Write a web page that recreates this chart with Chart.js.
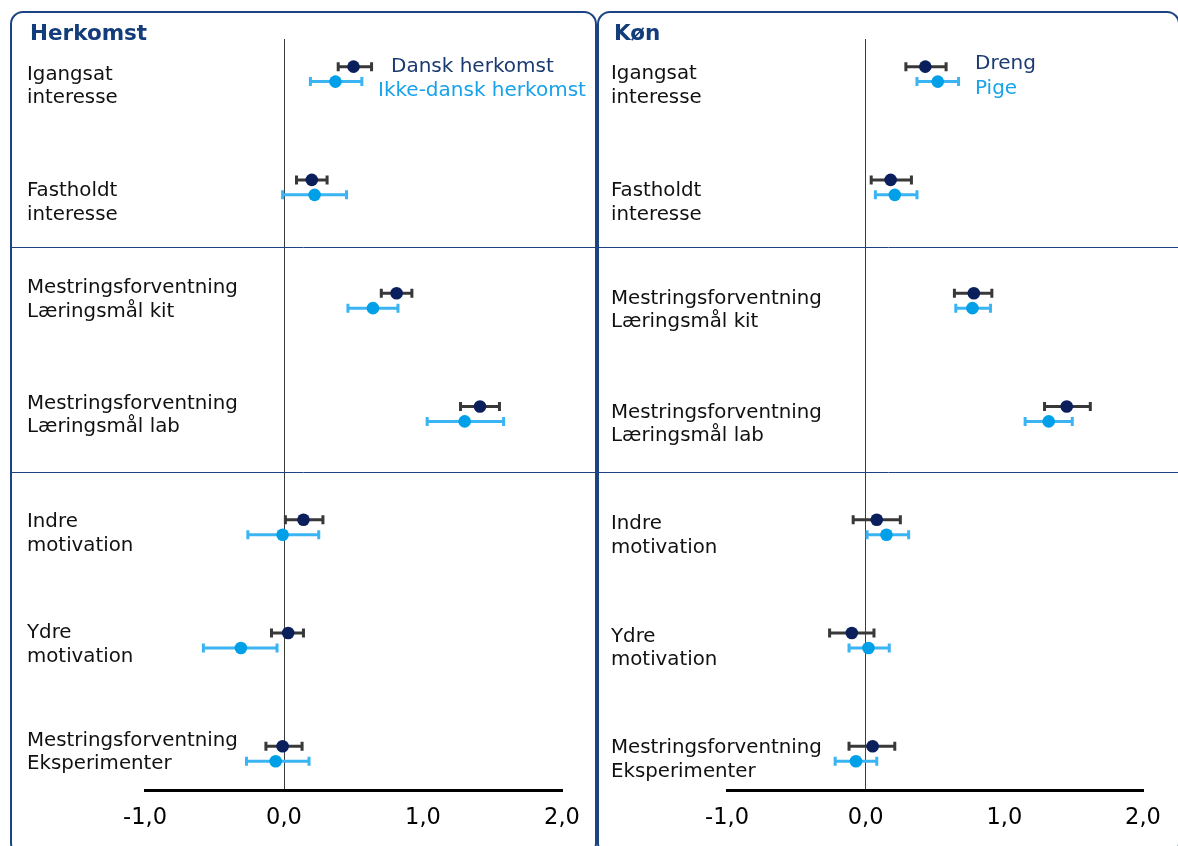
<!DOCTYPE html>
<html>
<head>
<meta charset="utf-8">
<script src="https://cdn.jsdelivr.net/npm/chart.js@4.4.1/dist/chart.umd.min.js"></script>
<style>
  body { margin: 0; background: #fff; width: 1178px; height: 846px; overflow: hidden; position: relative; }
  .panel { position: absolute; top: 11px; height: 845px; border: 2px solid #1d4482; border-radius: 13px; box-sizing: border-box; }
  #p1 { left: 10px; width: 587px; }
  #p2 { left: 597px; width: 583px; }
  canvas { position: absolute; top: 13px; }
  #herkomst { left: 12px; }
  #koen { left: 599px; }
</style>
</head>
<body>
<div class="panel" id="p1"></div>
<div class="panel" id="p2"></div>
<canvas id="herkomst" width="583" height="833"></canvas>
<canvas id="koen" width="579" height="833"></canvas>
<script>
const categories = [
  ["Igangsat", "interesse"],
  ["Fastholdt", "interesse"],
  ["Mestringsforventning", "Læringsmål kit"],
  ["Mestringsforventning", "Læringsmål lab"],
  ["Indre", "motivation"],
  ["Ydre", "motivation"],
  ["Mestringsforventning", "Eksperimenter"],
];
const xTicks = [-1, 0, 1, 2];

// Herkomst
const danskMean = [0.50, 0.20, 0.81, 1.41, 0.14, 0.03, -0.01];
const danskLow = [0.39, 0.09, 0.70, 1.27, 0.01, -0.09, -0.13];
const danskHigh = [0.63, 0.31, 0.92, 1.55, 0.28, 0.14, 0.13];
const ikkeMean = [0.37, 0.22, 0.64, 1.30, -0.01, -0.31, -0.06];
const ikkeLow = [0.19, -0.01, 0.46, 1.03, -0.26, -0.58, -0.27];
const ikkeHigh = [0.56, 0.45, 0.82, 1.58, 0.25, -0.05, 0.18];

// Køn
const drengMean = [0.43, 0.18, 0.78, 1.45, 0.08, -0.10, 0.05];
const drengLow = [0.29, 0.04, 0.64, 1.29, -0.09, -0.26, -0.12];
const drengHigh = [0.58, 0.33, 0.91, 1.62, 0.25, 0.06, 0.21];
const pigeMean = [0.52, 0.21, 0.77, 1.32, 0.15, 0.02, -0.07];
const pigeLow = [0.37, 0.07, 0.65, 1.15, 0.01, -0.12, -0.22];
const pigeHigh = [0.67, 0.37, 0.90, 1.49, 0.31, 0.17, 0.08];

const NAVY = "#0b1f5c";
const BLUE = "#00a0e8";
const FONT = "'DejaVu Sans', Verdana, sans-serif";
const SERIES_SHIFT = 0.066;

// horizontal error bars with caps, drawn under the points
const errorBars = {
  id: "errorBars",
  beforeDatasetsDraw(chart) {
    let ctx = chart.ctx;
    let xs = chart.scales.x;
    let ys = chart.scales.y;
    chart.data.datasets.forEach(function (ds) {
      ctx.save();
      ctx.strokeStyle = ds.barColor;
      ctx.lineWidth = 3;
      ds.data.forEach(function (p, i) {
        let y = ys.getPixelForValue(p.y);
        let x1 = xs.getPixelForValue(ds.low[i]);
        let x2 = xs.getPixelForValue(ds.high[i]);
        ctx.beginPath();
        ctx.moveTo(x1, y);
        ctx.lineTo(x2, y);
        ctx.moveTo(x1, y - 4.5);
        ctx.lineTo(x1, y + 4.5);
        ctx.moveTo(x2, y - 4.5);
        ctx.lineTo(x2, y + 4.5);
        ctx.stroke();
      });
      ctx.restore();
    });
  },
};

// group separators, title and the small in-plot legend
const panelText = {
  id: "panelText",
  beforeDatasetsDraw(chart, args, opts) {
    let ctx = chart.ctx;
    let ys = chart.scales.y;
    ctx.save();
    ctx.strokeStyle = "#1d4482";
    ctx.lineWidth = 1;
    opts.separators.forEach(function (v) {
      let y = Math.round(ys.getPixelForValue(v)) + 0.5;
      ctx.beginPath();
      ctx.moveTo(0, y);
      ctx.lineTo(chart.width, y);
      ctx.stroke();
    });
    ctx.restore();
  },
  afterDraw(chart, args, opts) {
    let ctx = chart.ctx;
    ctx.save();
    ctx.textBaseline = "middle";
    ctx.textAlign = "left";
    ctx.font = "bold 21.5px " + FONT;
    ctx.fillStyle = "#133c7a";
    ctx.fillText(opts.title, opts.titleX, 21);
    ctx.font = "20px " + FONT;
    opts.items.forEach(function (it) {
      ctx.fillStyle = it.color;
      ctx.fillText(it.text, it.x, it.y);
    });
    ctx.restore();
  },
};

function makePanel(id, cfg) {
  let datasets = cfg.series.map(function (s, k) {
    let shift = k === 0 ? -SERIES_SHIFT : SERIES_SHIFT;
    return {
      label: s.label,
      data: s.mean.map((v, i) => ({ x: v, y: i + shift })),
      low: s.low,
      high: s.high,
      barColor: s.barColor,
      backgroundColor: s.color,
      borderWidth: 0,
      pointRadius: 6.3,
      pointHoverRadius: 6.3,
    };
  });

  return new Chart(document.getElementById(id), {
    type: "scatter",
    data: { datasets: datasets },
    options: {
      responsive: false,
      animation: false,
      layout: { padding: cfg.padding },
      plugins: {
        legend: { display: false },
        tooltip: { enabled: false },
        panelText: {
          title: cfg.title,
          titleX: cfg.titleX,
          items: cfg.legendItems,
          separators: [1.53, 3.51],
        },
      },
      scales: {
        x: {
          type: "linear",
          min: -1,
          max: 2,
          afterBuildTicks: (scale) => {
            scale.ticks = xTicks.map((v) => ({ value: v }));
          },
          afterFit: (scale) => {
            scale.height = 40;
          },
          ticks: {
            color: "#000",
            padding: 15,
            font: { family: FONT, size: 22.5 },
            callback: (v) => v.toFixed(1).replace(".", ","),
          },
          grid: {
            drawTicks: false,
            lineWidth: 1,
            color: (c) => (c.tick && c.tick.value === 0 ? "#3c3c3c" : "rgba(0,0,0,0)"),
          },
          border: { display: true, color: "#000", width: 3 },
        },
        y: {
          type: "linear",
          reverse: true,
          min: -0.31,
          max: 6.32,
          // labels sit a little off the pair of points, as in the original layout
          afterBuildTicks: (scale) => {
            scale.ticks = categories.map((c, i) => ({ value: i + cfg.labelNudge[i] }));
          },
          afterFit: (scale) => {
            scale.width = cfg.yWidth;
          },
          ticks: {
            mirror: true,
            crossAlign: "near",
            padding: -cfg.yWidth,
            color: "#111",
            font: { family: FONT, size: 19.8, lineHeight: 1.2 },
            callback: (v) => categories[Math.round(v)],
          },
          grid: { display: false },
          border: { display: false },
        },
      },
    },
    plugins: [errorBars, panelText],
  });
}

makePanel("herkomst", {
  title: "Herkomst",
  titleX: 18,
  padding: { left: 15, right: 33, top: 26, bottom: 16 },
  yWidth: 118,
  labelNudge: [0.108, 0.14, -0.005, 0.012, 0.056, 0.042, -0.012],
  legendItems: [
    { text: "Dansk herkomst", color: "#1b3a72", x: 379, y: 54 },
    { text: "Ikke-dansk herkomst", color: "#18a2ea", x: 366, y: 78 },
  ],
  series: [
    { label: "Dansk herkomst", mean: danskMean, low: danskLow, high: danskHigh, color: NAVY, barColor: "#383838" },
    { label: "Ikke-dansk herkomst", mean: ikkeMean, low: ikkeLow, high: ikkeHigh, color: BLUE, barColor: "#3ab4f2" },
  ],
});

makePanel("koen", {
  title: "Køn",
  titleX: 15,
  padding: { left: 12, right: 35, top: 26, bottom: 16 },
  yWidth: 116,
  labelNudge: [0.105, 0.136, 0.085, 0.092, 0.075, 0.07, 0.052],
  legendItems: [
    { text: "Dreng", color: "#1b3a72", x: 376, y: 51 },
    { text: "Pige", color: "#18a2ea", x: 376, y: 76 },
  ],
  series: [
    { label: "Dreng", mean: drengMean, low: drengLow, high: drengHigh, color: NAVY, barColor: "#383838" },
    { label: "Pige", mean: pigeMean, low: pigeLow, high: pigeHigh, color: BLUE, barColor: "#3ab4f2" },
  ],
});
</script>
</body>
</html>
